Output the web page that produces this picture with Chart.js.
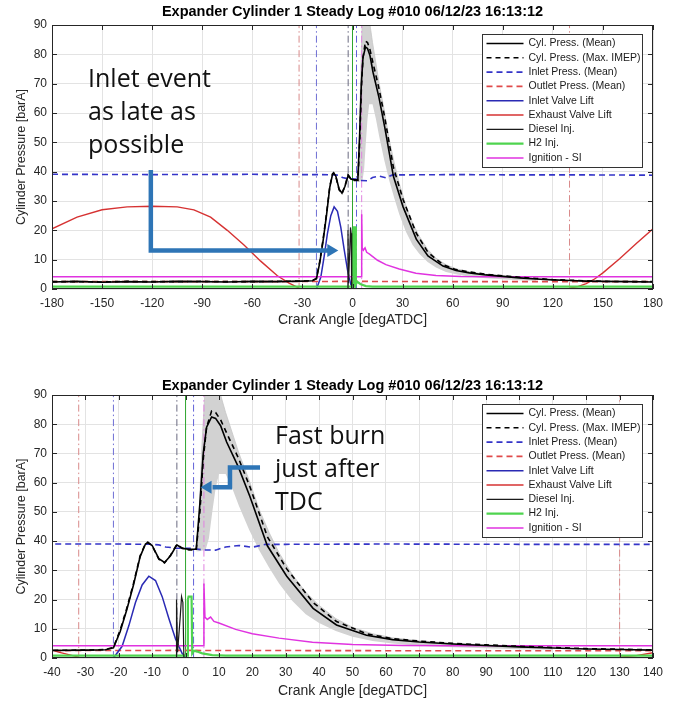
<!DOCTYPE html>
<html>
<head>
<meta charset="utf-8">
<script src="https://cdn.jsdelivr.net/npm/chart.js@4.4.1/dist/chart.umd.min.js"></script>
<style>
  html, body { margin: 0; padding: 0; background: #fff; }
  #wrap { position: relative; width: 676px; height: 705px; overflow: hidden; }
  canvas { position: absolute; left: 0; }
  #topChart { top: 0; }
  #bottomChart { top: 360px; }
</style>
</head>
<body>
<div id="wrap">
  <canvas id="topChart" width="676" height="345"></canvas>
  <canvas id="bottomChart" width="676" height="345"></canvas>
</div>
<script>
// ---- data (crank angle in degATDC, values in barA / scaled lift) ----
const pAngle = [-180, -165, -150, -135, -120, -105, -90, -75, -60, -45, -30, -24, -21.6, -19.6, -17.6, -15.6, -13.6, -12, -11.3, -10,
  -8, -6.3, -4.5, -2.6, -1, 1, 3.2, 4.3, 5.3, 6.3, 7.8, 9, 10.5, 12.3, 15.8, 19.3, 24.5, 30.3, 38.2, 45.2,
  54.2, 62, 70, 80, 90, 100, 110, 120, 130, 140, 150, 165, 180];
const pMean = [2.4, 2.6, 2.3, 2.5, 2.4, 2.6, 2.5, 2.4, 2.6, 2.5, 2.7, 2.8, 3.5, 9, 16.5, 25, 34.7, 39, 39.5, 38.5,
  34, 32.7, 35, 38.7, 37.5, 37.2, 37.2, 52.9, 70, 79, 82.5, 82, 79.5, 73.9, 65.4, 55.2, 38.4, 28, 17, 11.3,
  7.8, 6.3, 5.5, 4.8, 4.3, 3.8, 3.4, 3.1, 2.9, 2.7, 2.6, 2.5, 2.4];
const pMaxImep = [2.5, 2.5, 2.4, 2.6, 2.5, 2.5, 2.6, 2.5, 2.5, 2.6, 2.7, 2.9, 3.6, 9.5, 17, 25.5, 35, 39.2, 39.6, 38.4,
  33.8, 32.5, 35.2, 38.9, 37.6, 37.0, 37.0, 50, 68, 79, 84.5, 84, 81.5, 77, 68.5, 58.5, 41.5, 30.5, 19, 12.5,
  8.3, 6.6, 5.8, 5.0, 4.5, 4.0, 3.6, 3.2, 3.0, 2.8, 2.6, 2.5, 2.5];

// spread of the individual cycles (grey cloud)
const bandAngle = [3.2, 4, 5, 6, 7, 8, 9, 10, 12, 14, 16, 19, 22, 25, 28, 32, 36, 40, 45, 50, 56, 62, 70, 80, 90, 100, 110];
const bandHigh = [38, 48, 75, 95, 98, 98, 96, 92, 84, 77, 70, 61, 51, 43, 36, 28.5, 22.5, 18, 13.5, 10.5, 8.3, 6.9, 5.9, 5.0, 4.5, 4.0, 3.6];
const bandLow = [36.5, 36.5, 36.8, 37, 41, 50, 58, 63, 63, 58, 52, 44, 37, 31, 25.5, 19.5, 15, 12, 9.2, 7.3, 5.8, 5.0, 4.2, 3.7, 3.3, 3.0, 2.8];

const inAngle = [-180, -120, -60, -30, -20, -10, -8, -6, -3, 2, 5, 9, 12, 16, 20, 24, 30, 60, 100, 140, 180];
const inPress = [39.1, 39.0, 39.1, 39.0, 39.0, 38.9, 38.7, 38.0, 37.6, 37.5, 37.0, 36.9, 38.0, 38.5, 37.9, 38.9, 38.9, 39.0, 38.9, 38.9, 38.8];

const outAngle = [-180, -60, 0, 60, 180];
const outPress = [2.5, 2.5, 2.6, 2.5, 2.5];

const ivlAngle = [-180, -21.6, -19, -17, -15, -13, -11, -9, -7, -5, -3, -1, 0.3, 5, 10, 20, 40, 60, 180];
const ivlLift = [0, 0, 4, 11, 19, 25, 28, 26.5, 21, 13.5, 6.5, 1.5, 0, -0.2, -0.5, -0.5, -0.3, 0, 0];

const evlAngle = [-180, -165, -150, -135, -120, -105, -95, -85, -75, -65, -55, -45, -38, -32, 0, 130, 135, 140, 145, 150, 160, 170, 180];
const evlLift = [20.5, 24.5, 27, 28, 28.2, 28, 27, 24.5, 20, 15, 9.5, 4.5, 2, 0.3, null, 0.3, 0.8, 1.8, 3.4, 5.5, 10.3, 15.5, 20.5];

const dieselAngle = [-180, -2.8, -2.7, -2.4, -1.6, -1.2, -0.8, -0.5, 180];
const dieselCmd = [0, 0, 20, 2, 14, 21, 19, 0, 0];

const h2Angle = [-180, 0.5, 0.7, 0.9, 1.8, 2.0, 2.6, 3.5, 5, 8, 12, 180];
const h2Cmd = [0.8, 0.8, 20, 21, 21, 1.5, 2.5, 2.2, 1.6, 1.0, 0.8, 0.8];

const ignAngle = [-180, 5.4, 5.5, 5.8, 6.5, 7.5, 8.5, 10, 15, 20, 28, 38, 50, 65, 80, 180];
const ignSig = [4.2, 4.2, 25.5, 14, 13.2, 14, 12.5, 12, 9.8, 8.3, 6.8, 5.4, 4.6, 4.3, 4.2, 4.2];

// valve / injection / spark event markers
const markerAngles = [-32, -21.6, -2.6, 0, 2.4, 5.5, 130];

const yTicks = [0, 90, 10];
const TITLE = 'Expander Cylinder 1 Steady Log #010 06/12/23 16:13:12';
// ---------------------------------------------------------------------------

const FONT = "'Liberation Sans', Arial, Helvetica, sans-serif";
Chart.defaults.font.family = FONT;

const markerStyles = [
  { color: '#d98a8a', dash: [7, 3, 1.5, 3] },
  { color: '#6f6fd4', dash: [7, 3, 1.5, 3] },
  { color: '#6a6a80', dash: [7, 3, 1.5, 3] },
  { color: '#2fa52f', dash: [] },
  { color: '#6262d8', dash: [7, 3, 1.5, 3] },
  { color: '#e083e0', dash: [7, 3, 1.5, 3] },
  { color: '#d98a8a', dash: [7, 3, 1.5, 3] }
];

const notes = {
  topChart: {
    text: ['Inlet event', 'as late as', 'possible'], at: [-158.4, 69],
    arrow: [[-120.8, 40.6], [-120.8, 13.1], [-8.5, 13.1]]
  },
  bottomChart: {
    text: ['Fast burn', 'just after', 'TDC'], at: [26.8, 73.1],
    arrow: [[22.3, 65.2], [13.3, 65.2], [13.3, 58.4], [4.5, 58.4]]
  }
};

const pts = (xs, ys) => xs.map((x, i) => ({ x: x, y: ys[i] }));

function buildDatasets() {
  const ds = [
    { label: 'Cyl. Press. (Mean)', data: pts(pAngle, pMean), borderColor: '#000000', borderWidth: 1.6, order: 1, inLegend: true },
    { label: 'Cyl. Press. (Max. IMEP)', data: pts(pAngle, pMaxImep), borderColor: '#000000', borderWidth: 1.6, borderDash: [5, 4], order: 2, inLegend: true },
    { label: 'Inlet Press. (Mean)', data: pts(inAngle, inPress), borderColor: '#3535c8', borderWidth: 1.6, borderDash: [6, 4], order: 6, inLegend: true },
    { label: 'Outlet Press. (Mean)', data: pts(outAngle, outPress), borderColor: '#e04a4a', borderWidth: 1.6, borderDash: [6, 4], order: 7, inLegend: true },
    { label: 'Inlet Valve Lift', data: pts(ivlAngle, ivlLift), borderColor: '#2a2ab4', borderWidth: 1.5, order: 4, inLegend: true },
    { label: 'Exhaust Valve Lift', data: pts(evlAngle, evlLift), borderColor: '#d63232', borderWidth: 1.4, order: 5, inLegend: true },
    { label: 'Diesel Inj.', data: pts(dieselAngle, dieselCmd), borderColor: '#1a1a1a', borderWidth: 1.2, order: 3, inLegend: true },
    { label: 'H2 Inj.', data: pts(h2Angle, h2Cmd), borderColor: '#4fd44f', borderWidth: 2.2, order: 3, inLegend: true },
    { label: 'Ignition - SI', data: pts(ignAngle, ignSig), borderColor: '#e033e0', borderWidth: 1.5, order: 3, inLegend: true },
    { label: 'cycles low', data: pts(bandAngle, bandLow), borderColor: 'rgba(0,0,0,0)', borderWidth: 0, order: 20 },
    { label: 'cycles high', data: pts(bandAngle, bandHigh), borderColor: '#c6c6c6', borderWidth: 0.8, backgroundColor: '#d2d2d2', fill: '-1', order: 20 }
  ];
  markerAngles.forEach((a, i) => {
    ds.push({
      label: 'marker', data: [{ x: a, y: -5 }, { x: a, y: 95 }],
      borderColor: markerStyles[i].color, borderDash: markerStyles[i].dash, borderWidth: 1, order: 15
    });
  });
  return ds;
}

// MATLAB-like box, inner ticks, legend and the text callouts
const matlabBox = {
  id: 'matlabBox',
  afterDatasetsDraw(chart) {
    const { ctx, chartArea: a } = chart;
    const xs = chart.scales.x, ys = chart.scales.y;
    ctx.save();

    ctx.strokeStyle = '#262626';
    ctx.lineWidth = 1;
    ctx.setLineDash([]);
    ctx.beginPath();
    xs.ticks.forEach(t => {
      const px = Math.round(xs.getPixelForValue(t.value)) + 0.5;
      ctx.moveTo(px, a.bottom); ctx.lineTo(px, a.bottom - 5);
      ctx.moveTo(px, a.top); ctx.lineTo(px, a.top + 5);
    });
    ys.ticks.forEach(t => {
      const py = Math.round(ys.getPixelForValue(t.value)) + 0.5;
      ctx.moveTo(a.left, py); ctx.lineTo(a.left + 5, py);
      ctx.moveTo(a.right, py); ctx.lineTo(a.right - 5, py);
    });
    ctx.stroke();
    ctx.strokeRect(Math.round(a.left) + 0.5, Math.round(a.top) + 0.5, Math.round(a.width) - 1, Math.round(a.height) - 1);

    // legend
    const entries = chart.data.datasets.filter(d => d.inLegend);
    const lx = Math.round(a.right - 171) + 0.5, ly = Math.round(a.top + 9) + 0.5;
    ctx.fillStyle = '#ffffff';
    ctx.fillRect(lx, ly, 160, 133);
    ctx.strokeStyle = '#333333';
    ctx.strokeRect(lx, ly, 160, 133);
    ctx.font = '10.5px ' + FONT;
    ctx.textBaseline = 'middle';
    entries.forEach((d, i) => {
      const yy = ly + 9 + i * 14.3;
      ctx.strokeStyle = d.borderColor;
      ctx.lineWidth = d.borderWidth;
      ctx.setLineDash(d.borderDash || []);
      ctx.beginPath();
      ctx.moveTo(lx + 4, yy); ctx.lineTo(lx + 41, yy);
      ctx.stroke();
      ctx.fillStyle = '#1a1a1a';
      ctx.fillText(d.label, lx + 46, yy);
    });
    ctx.setLineDash([]);

    // callout text + arrow
    const n = notes[chart.canvas.id];
    if (n) {
      ctx.font = '25px "Open Sans", ' + FONT;
      ctx.fillStyle = '#111111';
      ctx.textBaseline = 'alphabetic';
      const tx = xs.getPixelForValue(n.at[0]), ty = ys.getPixelForValue(n.at[1]);
      n.text.forEach((s, i) => ctx.fillText(s, tx, ty + i * 33));

      const p = n.arrow.map(q => [xs.getPixelForValue(q[0]), ys.getPixelForValue(q[1])]);
      const tip = p[p.length - 1], prev = p[p.length - 2];
      const ang = Math.atan2(tip[1] - prev[1], tip[0] - prev[0]);
      const len = 11, half = 6.5;
      const base = [tip[0] - len * Math.cos(ang), tip[1] - len * Math.sin(ang)];
      ctx.strokeStyle = '#2e75b6';
      ctx.fillStyle = '#2e75b6';
      ctx.lineWidth = 4.5;
      ctx.lineJoin = 'miter';
      ctx.beginPath();
      ctx.moveTo(p[0][0], p[0][1]);
      for (let i = 1; i < p.length - 1; i++) ctx.lineTo(p[i][0], p[i][1]);
      ctx.lineTo(base[0] + 1, base[1]);
      ctx.stroke();
      ctx.beginPath();
      ctx.moveTo(tip[0], tip[1]);
      ctx.lineTo(base[0] - half * Math.sin(ang), base[1] + half * Math.cos(ang));
      ctx.lineTo(base[0] + half * Math.sin(ang), base[1] - half * Math.cos(ang));
      ctx.closePath();
      ctx.fill();
    }
    ctx.restore();
  }
};

function makeChart(id, xMin, xMax, xStep, pad, titlePad, xAxisH, xTitlePad) {
  return new Chart(document.getElementById(id), {
    type: 'line',
    data: { datasets: buildDatasets() },
    plugins: [matlabBox],
    options: {
      responsive: false,
      animation: false,
      events: [],
      layout: { padding: pad },
      elements: { point: { radius: 0 }, line: { tension: 0, fill: false } },
      plugins: {
        legend: { display: false },
        tooltip: { enabled: false },
        title: {
          display: true, text: TITLE, color: '#000000', fullSize: false,
          font: { size: 14.5, weight: 'bold' }, padding: titlePad
        }
      },
      scales: {
        x: {
          type: 'linear', min: xMin, max: xMax,
          ticks: { stepSize: xStep, autoSkip: false, maxRotation: 0, padding: 7, color: '#262626', font: { size: 12 } },
          grid: { color: '#e3e3e3', drawTicks: false },
          border: { display: false },
          title: { display: true, text: 'Crank Angle [degATDC]', color: '#262626', font: { size: 14 }, padding: { top: 0, bottom: xTitlePad } },
          afterFit: s => { s.height = xAxisH; }
        },
        y: {
          min: yTicks[0], max: yTicks[1],
          ticks: { stepSize: yTicks[2], padding: 5, color: '#262626', font: { size: 12 } },
          grid: { color: '#e3e3e3', drawTicks: false },
          border: { display: false },
          title: { display: true, text: 'Cylinder Pressure [barA]', color: '#262626', font: { size: 12.5 }, padding: { top: 14, bottom: 0 } },
          afterFit: s => { s.width = 52; }
        }
      }
    }
  });
}

makeChart('topChart', -180, 180, 30, { top: 0, right: 23, bottom: 10, left: 0 }, { top: 3, bottom: 4.6 }, 46, 6.6);
makeChart('bottomChart', -40, 140, 10, { top: 9.6, right: 23, bottom: 2, left: 0 }, { top: 8, bottom: 0 }, 45, 3.6);
</script>
</body>
</html>
